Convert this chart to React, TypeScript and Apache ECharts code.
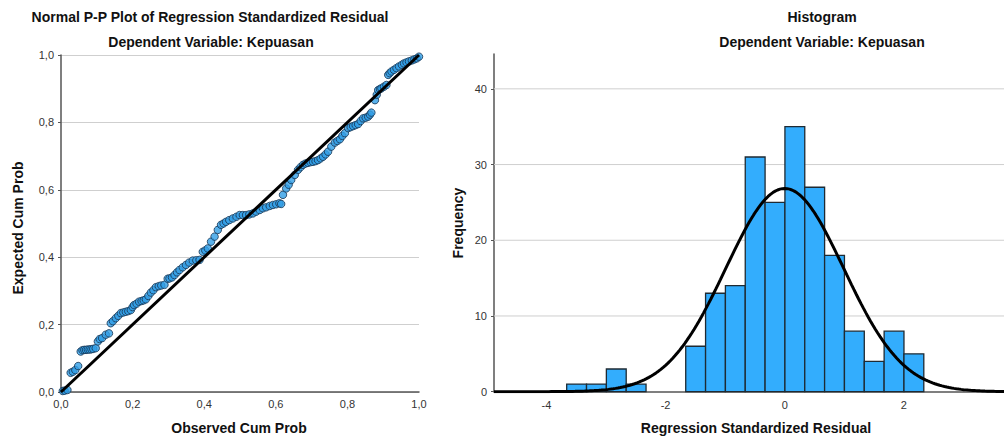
import React, { useEffect, useRef } from "react";
import * as echarts from "echarts";

// ---- P-P plot data (observed vs expected cumulative probability) ----
const ppObserved = [
  0.005, 0.01, 0.018, 0.027, 0.033, 0.04, 0.048, 0.055, 0.06, 0.065, 0.07, 0.075, 0.08, 0.085, 0.09, 0.097,
  0.103, 0.108, 0.115, 0.125, 0.134, 0.139, 0.145, 0.153, 0.16, 0.167, 0.174, 0.181, 0.188, 0.195, 0.2, 0.204,
  0.211, 0.218, 0.225, 0.231, 0.237, 0.244, 0.251, 0.258, 0.265, 0.273, 0.28, 0.289, 0.298, 0.303, 0.31, 0.317,
  0.324, 0.331, 0.34, 0.349, 0.358, 0.368, 0.378, 0.387, 0.396, 0.403, 0.41, 0.419, 0.429, 0.438, 0.447, 0.454,
  0.461, 0.47, 0.48, 0.49, 0.499, 0.508, 0.517, 0.526, 0.536, 0.545, 0.555, 0.564, 0.573, 0.583, 0.592, 0.601,
  0.61, 0.615, 0.62, 0.629, 0.636, 0.643, 0.653, 0.662, 0.669, 0.676, 0.683, 0.69, 0.697, 0.704, 0.711, 0.718,
  0.725, 0.732, 0.739, 0.746, 0.755, 0.765, 0.772, 0.779, 0.786, 0.793, 0.802, 0.809, 0.816, 0.823, 0.83, 0.837,
  0.844, 0.851, 0.858, 0.863, 0.867, 0.877, 0.882, 0.886, 0.891, 0.895, 0.902, 0.909, 0.914, 0.918, 0.923, 0.93,
  0.937, 0.944, 0.952, 0.958, 0.965, 0.972, 0.98, 0.987, 0.994, 1.0,
];
const ppExpected = [
  0.003, 0.004, 0.006, 0.057, 0.06, 0.065, 0.077, 0.12, 0.124, 0.125, 0.125, 0.126, 0.126, 0.127, 0.128, 0.13,
  0.15, 0.157, 0.16, 0.17, 0.174, 0.204, 0.21, 0.219, 0.226, 0.234, 0.236, 0.238, 0.24, 0.243, 0.252, 0.258,
  0.262, 0.268, 0.27, 0.272, 0.275, 0.285, 0.295, 0.302, 0.311, 0.314, 0.316, 0.318, 0.336, 0.337, 0.34, 0.347,
  0.355, 0.362, 0.37, 0.377, 0.384, 0.39, 0.391, 0.392, 0.416, 0.42, 0.426, 0.446, 0.461, 0.481, 0.496, 0.5,
  0.505, 0.51, 0.515, 0.52, 0.525, 0.525, 0.525, 0.527, 0.53, 0.535, 0.54, 0.545, 0.548, 0.552, 0.555, 0.557,
  0.56, 0.558, 0.585, 0.604, 0.615, 0.629, 0.644, 0.659, 0.667, 0.674, 0.678, 0.68, 0.682, 0.683, 0.685, 0.688,
  0.693, 0.698, 0.705, 0.713, 0.728, 0.74, 0.745, 0.75, 0.76, 0.768, 0.783, 0.786, 0.789, 0.792, 0.795, 0.804,
  0.812, 0.814, 0.817, 0.823, 0.829, 0.866, 0.882, 0.896, 0.899, 0.901, 0.906, 0.911, 0.941, 0.946, 0.951, 0.956,
  0.961, 0.966, 0.971, 0.975, 0.978, 0.981, 0.984, 0.987, 0.99, 0.995,
];

// ---- Histogram data ----
const histBinStart = -3.66;
const histBinWidth = 0.333;
const histCounts = [1, 1, 3, 1, 0, 0, 6, 13, 14, 31, 25, 35, 27, 18, 8, 4, 8, 5];
const histMean = 0.0;
const histStdDev = 0.99;
const histN = 200;
const histXTicks = [-4, -2, 0, 2];
const histYTicks = [0, 10, 20, 30, 40];

const FONT = "Liberation Sans, Arial, sans-serif";
const commaFmt = (v: number) => v.toFixed(1).replace(".", ",");

export default function App() {
  const ref = useRef<HTMLDivElement>(null);
  useEffect(() => {
    if (!ref.current) return;
    const chart = echarts.init(ref.current, null, { renderer: "svg" });

    const ppData = ppObserved.map((x, i) => [x, ppExpected[i]]);
    const barData: number[][] = [];
    histCounts.forEach((c, i) => {
      if (c > 0) barData.push([histBinStart + i * histBinWidth, histBinStart + (i + 1) * histBinWidth, c]);
    });
    const xMinH = -4.88;
    const xMaxH = 3.68;
    const curve: number[][] = [];
    const k = (histN * histBinWidth) / (histStdDev * Math.sqrt(2 * Math.PI));
    for (let x = xMinH; x <= xMaxH + 1e-9; x += 0.04) {
      const z = (x - histMean) / histStdDev;
      curve.push([x, k * Math.exp(-0.5 * z * z)]);
    }

    const axisLineStyle = { color: "#555", width: 1.5 };
    const gridLine = { show: true, lineStyle: { color: "#cfcfcf", width: 1 } };
    const tickLabel = { color: "#333", fontSize: 11, fontFamily: FONT };

    chart.setOption({
      animation: false,
      textStyle: { fontFamily: FONT },
      grid: [
        { left: 61, top: 55, width: 358, height: 337 },
        { left: 494, top: 54, width: 510, height: 337.7 },
      ],
      xAxis: [
        {
          gridIndex: 0,
          type: "value",
          min: 0,
          max: 1,
          interval: 0.2,
          axisLine: { show: true, lineStyle: axisLineStyle },
          axisTick: { show: false },
          splitLine: { show: false },
          axisLabel: { ...tickLabel, margin: 6, formatter: commaFmt },
        },
        {
          gridIndex: 1,
          type: "value",
          min: xMinH,
          max: xMaxH,
          axisLine: { show: true, onZero: false, lineStyle: axisLineStyle },
          axisTick: { show: false },
          splitLine: { show: false },
          axisLabel: { ...tickLabel, margin: 8, customValues: histXTicks, hideOverlap: false },
        },
      ],
      yAxis: [
        {
          gridIndex: 0,
          type: "value",
          min: 0,
          max: 1,
          interval: 0.2,
          axisLine: { show: true, lineStyle: axisLineStyle },
          axisTick: { show: true, length: 3, lineStyle: { color: "#555" } },
          splitLine: gridLine,
          axisLabel: { ...tickLabel, margin: 7, formatter: commaFmt },
        },
        {
          gridIndex: 1,
          type: "value",
          min: 0,
          max: 44.6,
          axisLine: { show: true, onZero: false, lineStyle: axisLineStyle },
          axisTick: { show: true, length: 3, customValues: histYTicks, lineStyle: { color: "#555" } },
          splitLine: { show: false },
          axisLabel: { ...tickLabel, margin: 7, customValues: histYTicks },
        },
      ],
      series: [
        {
          type: "scatter",
          xAxisIndex: 0,
          yAxisIndex: 0,
          data: ppData,
          symbolSize: 7.5,
          itemStyle: { color: "#2f9de6", borderColor: "#163552", borderWidth: 1 },
          z: 3,
        },
        {
          type: "line",
          xAxisIndex: 0,
          yAxisIndex: 0,
          data: [
            [0, 0],
            [1, 1],
          ],
          showSymbol: false,
          lineStyle: { color: "#000", width: 3 },
          z: 4,
        },
        {
          // horizontal gridlines for histogram
          type: "custom",
          xAxisIndex: 1,
          yAxisIndex: 1,
          data: histYTicks.filter((v) => v > 0).map((v) => [v]),
          renderItem: (params: any, api: any) => {
            const y = api.coord([xMinH, api.value(0)])[1];
            const cs = params.coordSys;
            return {
              type: "line",
              shape: { x1: cs.x, y1: y, x2: cs.x + cs.width, y2: y },
              style: { stroke: "#cfcfcf", lineWidth: 1 },
            };
          },
          encode: { y: 0 },
          silent: true,
          z: 1,
        },
        {
          type: "custom",
          xAxisIndex: 1,
          yAxisIndex: 1,
          data: barData,
          encode: { x: [0, 1], y: 2 },
          renderItem: (params: any, api: any) => {
            const p0 = api.coord([api.value(0), api.value(2)]);
            const p1 = api.coord([api.value(1), 0]);
            return {
              type: "rect",
              shape: { x: p0[0], y: p0[1], width: p1[0] - p0[0], height: p1[1] - p0[1] },
              style: { fill: "#33adfd", stroke: "#1e2a33", lineWidth: 1.3 },
            };
          },
          z: 2,
        },
        {
          type: "line",
          xAxisIndex: 1,
          yAxisIndex: 1,
          data: curve,
          showSymbol: false,
          lineStyle: { color: "#000", width: 3 },
          z: 5,
        },
      ],
      graphic: [
        {
          type: "text",
          x: 210,
          y: 17,
          style: { text: "Normal P-P Plot of Regression Standardized Residual", font: `bold 14px ${FONT}`, fill: "#111", textAlign: "center", textVerticalAlign: "middle" },
        },
        {
          type: "text",
          x: 211,
          y: 42,
          style: { text: "Dependent Variable: Kepuasan", font: `bold 14px ${FONT}`, fill: "#111", textAlign: "center", textVerticalAlign: "middle" },
        },
        {
          type: "text",
          x: 18,
          y: 228,
          rotation: Math.PI / 2,
          style: { text: "Expected Cum Prob", font: `bold 14px ${FONT}`, fill: "#111", textAlign: "center", textVerticalAlign: "middle" },
        },
        {
          type: "text",
          x: 239,
          y: 428,
          style: { text: "Observed Cum Prob", font: `bold 14px ${FONT}`, fill: "#111", textAlign: "center", textVerticalAlign: "middle" },
        },
        {
          type: "text",
          x: 822,
          y: 17,
          style: { text: "Histogram", font: `bold 14px ${FONT}`, fill: "#111", textAlign: "center", textVerticalAlign: "middle" },
        },
        {
          type: "text",
          x: 822,
          y: 42,
          style: { text: "Dependent Variable: Kepuasan", font: `bold 14px ${FONT}`, fill: "#111", textAlign: "center", textVerticalAlign: "middle" },
        },
        {
          type: "text",
          x: 458,
          y: 223,
          rotation: Math.PI / 2,
          style: { text: "Frequency", font: `bold 14px ${FONT}`, fill: "#111", textAlign: "center", textVerticalAlign: "middle" },
        },
        {
          type: "text",
          x: 756,
          y: 428,
          style: { text: "Regression Standardized Residual", font: `bold 14px ${FONT}`, fill: "#111", textAlign: "center", textVerticalAlign: "middle" },
        },
      ],
    });
    return () => chart.dispose();
  }, []);
  return <div ref={ref} style={{ position: "absolute", left: 0, top: 0, width: 1004, height: 438 }} />;
}
